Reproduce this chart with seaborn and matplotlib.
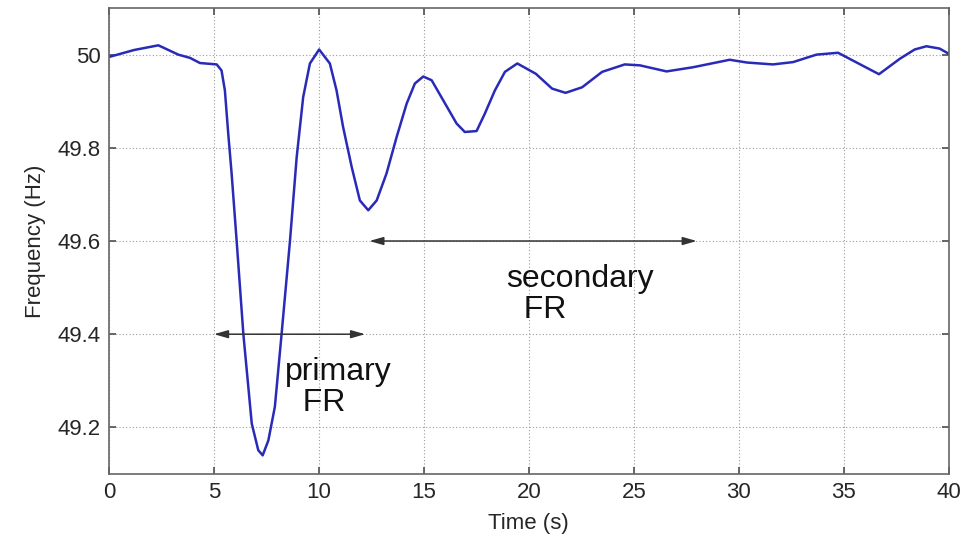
import numpy as np
import pandas as pd
import matplotlib
matplotlib.use("Agg")
import matplotlib.pyplot as plt
import seaborn as sns

# frequency trace
time_s = [0.0, 1.2, 2.35, 3.3, 3.86, 4.33, 5.13, 5.36, 5.52, 5.68, 5.84, 6.08,
          6.40, 6.80, 7.11, 7.32, 7.59, 7.90, 8.22, 8.62, 8.94, 9.25, 9.57,
          10.01, 10.52, 10.84, 11.15, 11.56, 11.95, 12.35, 12.75, 13.22, 13.70,
          14.18, 14.57, 14.97, 15.37, 15.92, 16.56, 16.95, 17.51, 17.90, 18.38,
          18.86, 19.45, 20.33, 21.11, 21.75, 22.54, 23.49, 24.57, 25.29, 26.56,
          27.83, 29.57, 30.4, 31.63, 32.59, 33.70, 34.73, 36.68, 37.67, 38.38,
          38.94, 39.57, 40.0]
freq_hz = [49.995, 50.010, 50.020, 50.000, 49.993, 49.982, 49.979, 49.966,
           49.923, 49.830, 49.745, 49.600, 49.400, 49.208, 49.151, 49.140,
           49.172, 49.244, 49.400, 49.600, 49.780, 49.909, 49.981, 50.011,
           49.981, 49.923, 49.845, 49.759, 49.687, 49.666, 49.687, 49.745,
           49.823, 49.895, 49.938, 49.953, 49.945, 49.902, 49.852, 49.834,
           49.836, 49.873, 49.923, 49.963, 49.981, 49.959, 49.927, 49.918,
           49.930, 49.963, 49.979, 49.977, 49.964, 49.973, 49.989, 49.983,
           49.979, 49.984, 50.000, 50.004, 49.958, 49.991, 50.011, 50.018,
           50.013, 50.002]

x_ticks = [0, 5, 10, 15, 20, 25, 30, 35, 40]
y_ticks = [49.2, 49.4, 49.6, 49.8, 50.0]
y_tick_labels = ["49.2", "49.4", "49.6", "49.8", "50"]

primary_span = (5.0, 12.2, 49.4)
secondary_span = (12.4, 28.0, 49.6)

df = pd.DataFrame({"t": time_s, "f": freq_hz})

sns.set_theme(style="white")
plt.rcParams["font.family"] = ["Liberation Sans", "DejaVu Sans"]

fig = plt.figure(figsize=(9.7, 5.36), dpi=100)
ax = fig.add_axes([0.1124, 0.1157, 0.8656, 0.8693])

sns.lineplot(data=df, x="t", y="f", ax=ax, color="#2a2ab8", linewidth=1.8)

ax.set_xlim(0, 40)
ax.set_ylim(49.1, 50.1)
ax.set_xticks(x_ticks)
ax.set_yticks(y_ticks)
ax.set_yticklabels(y_tick_labels)
ax.tick_params(direction="in", length=5, labelsize=16, color="#555555",
               top=True, right=True, bottom=True, left=True, pad=6)
ax.grid(True, linestyle=(0, (1, 2)), color="#9a9a9a", linewidth=0.8)
for s in ax.spines.values():
    s.set_color("#666666")
    s.set_linewidth(1.2)

ax.set_xlabel("Time (s)", fontsize=16, labelpad=7)
ax.set_ylabel("Frequency (Hz)", fontsize=16, labelpad=8)

arrow_kw = dict(arrowstyle="<|-|>,head_length=0.7,head_width=0.2",
                color="#333333", lw=1.1, shrinkA=0, shrinkB=0)
ax.annotate("", xy=(primary_span[0], primary_span[2]),
            xytext=(primary_span[1], primary_span[2]), arrowprops=arrow_kw)
ax.annotate("", xy=(secondary_span[0], secondary_span[2]),
            xytext=(secondary_span[1], secondary_span[2]), arrowprops=arrow_kw)

ax.text(8.4, 49.285, "primary\n  FR", fontsize=23, ha="left", va="center",
        linespacing=1.05, color="#111111")
ax.text(18.9, 49.485, "secondary\n  FR", fontsize=23, ha="left", va="center",
        linespacing=1.05, color="#111111")

fig.savefig("out.png", dpi=100)
